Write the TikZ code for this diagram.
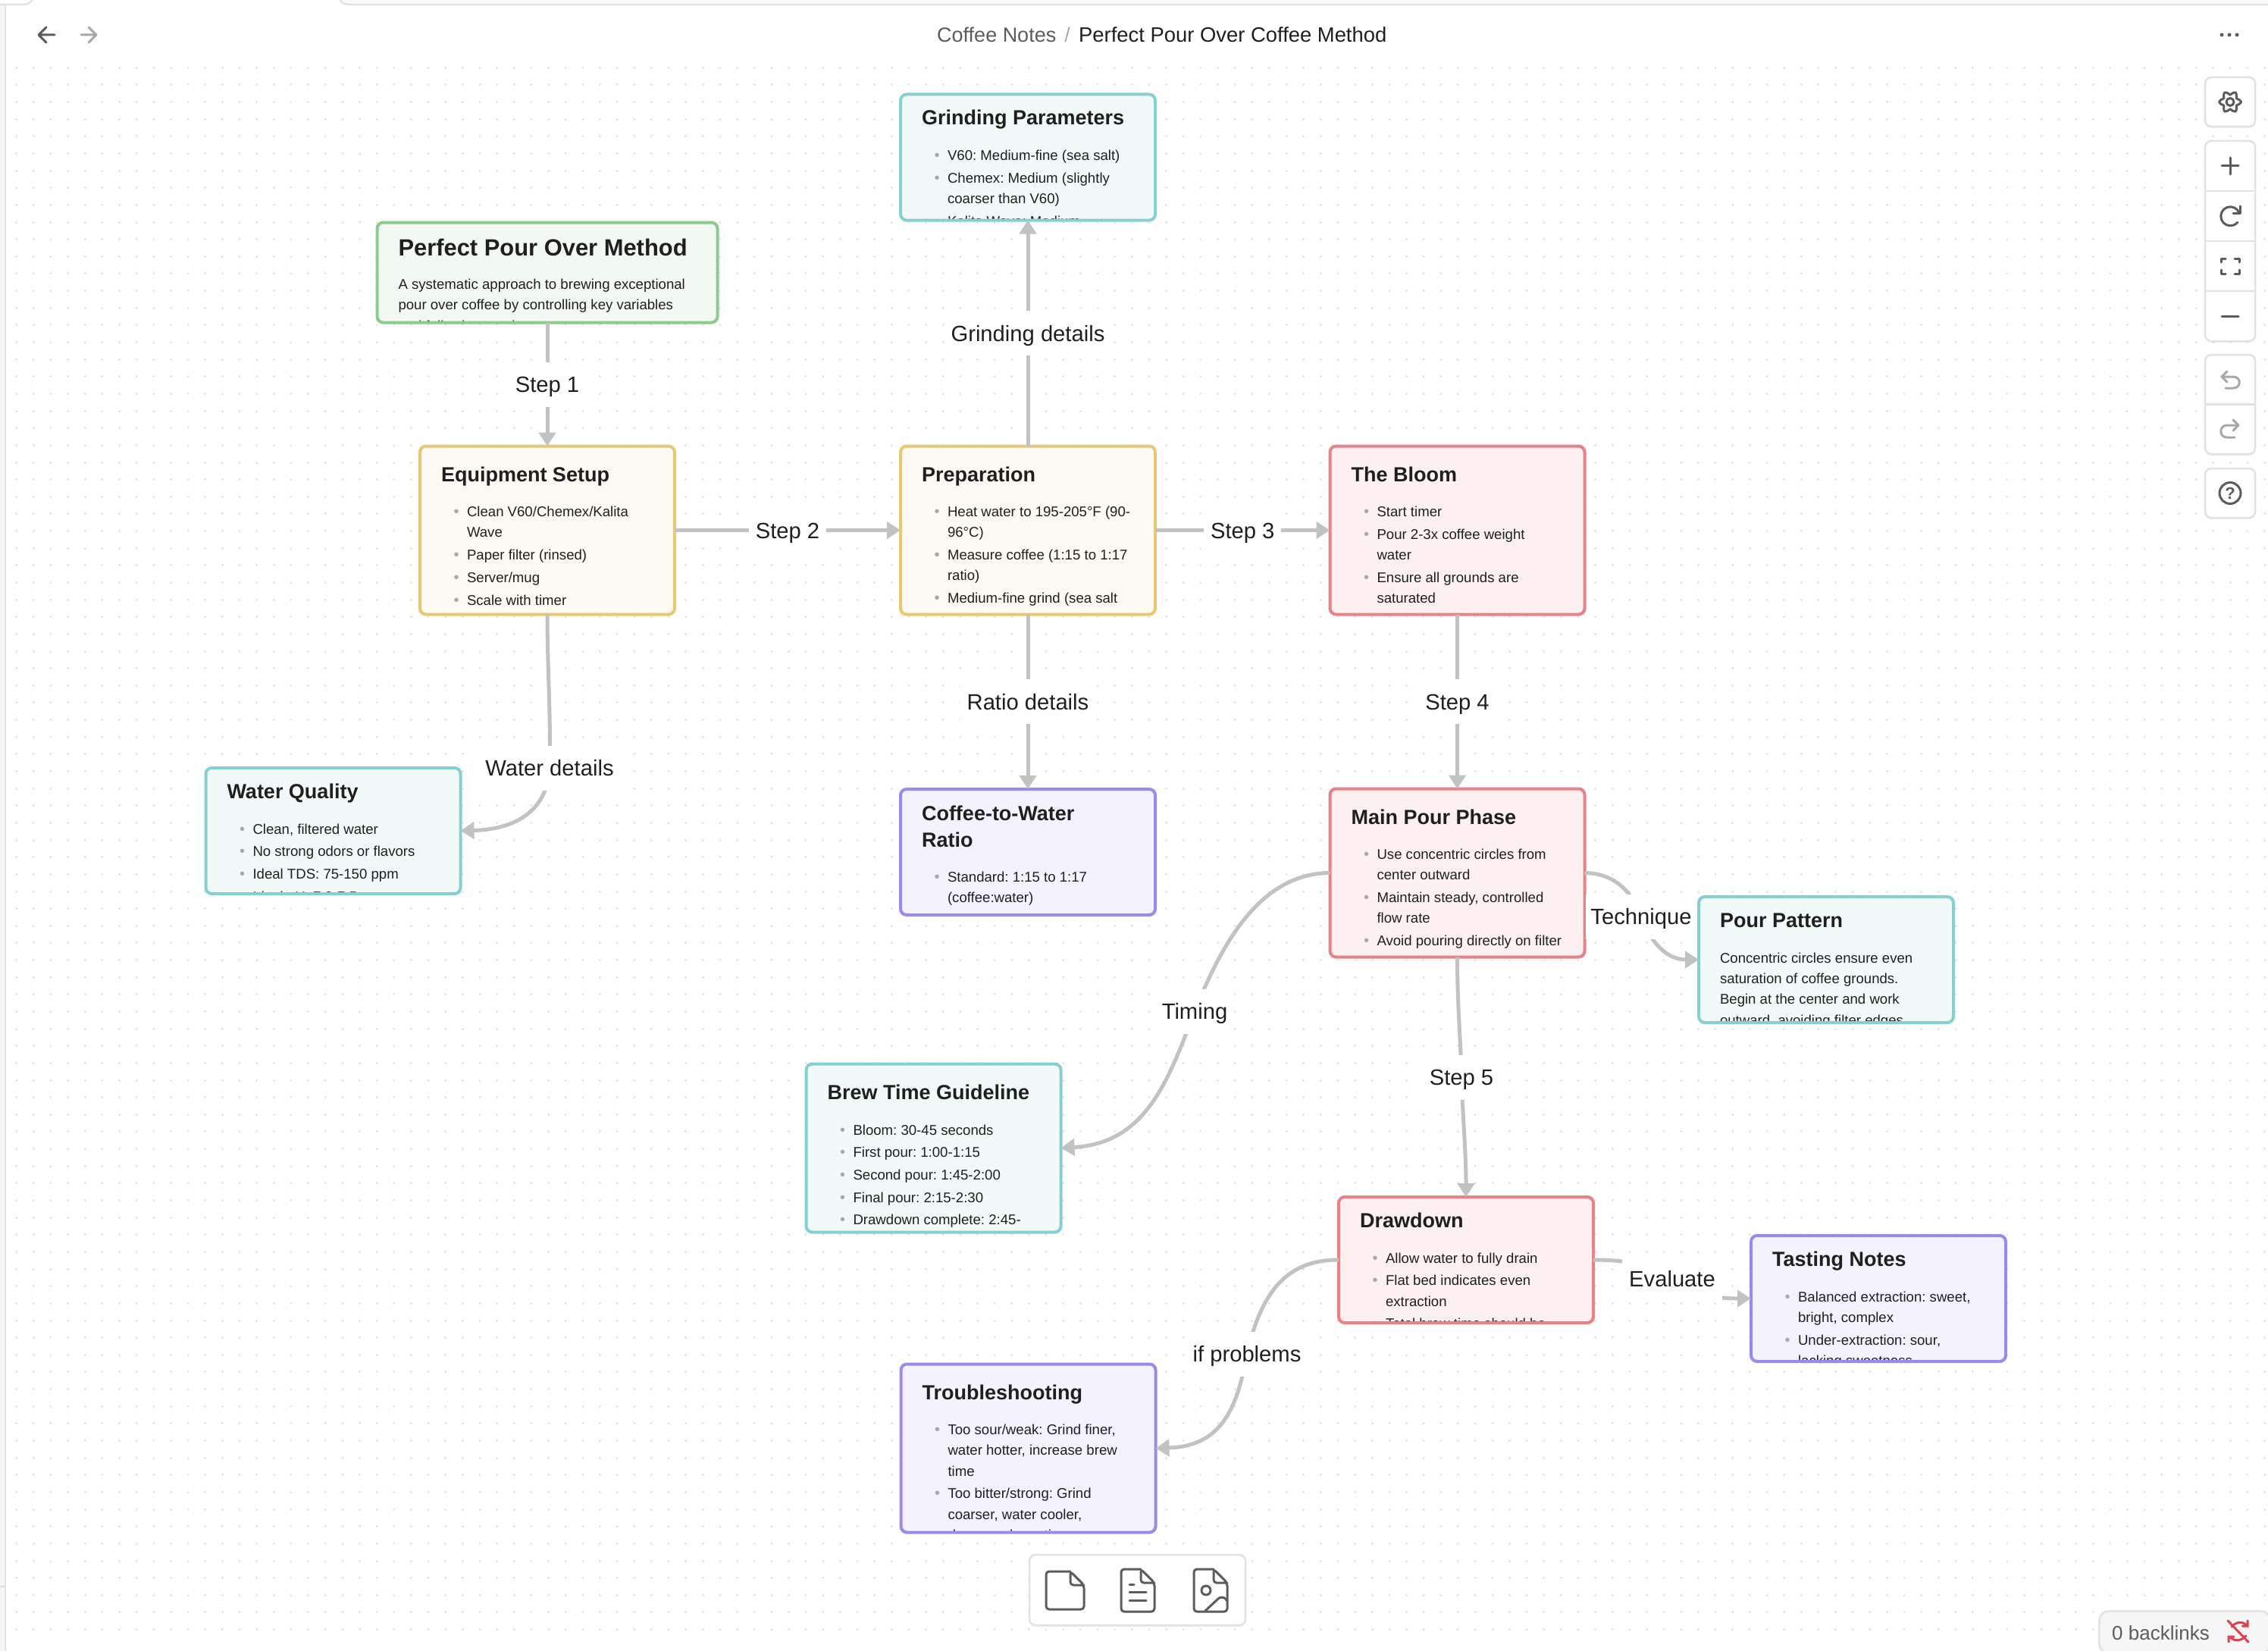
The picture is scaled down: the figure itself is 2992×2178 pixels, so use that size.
\documentclass[tikz,border=0pt]{standalone}
\usepackage{fontspec}
\setmainfont{Liberation Sans}
\usetikzlibrary{arrows.meta, shapes, shadows}
\frenchspacing

\definecolor{inkdark}{HTML}{1F1F1F}
\definecolor{inkgray}{HTML}{5C5C5C}
\definecolor{edgegray}{HTML}{C2C2C2}
\definecolor{dotgray}{HTML}{E0E0E0}
\definecolor{panelline}{HTML}{E2E2E2}
\definecolor{panelfill}{HTML}{F6F6F6}
\definecolor{bulletgray}{HTML}{A8A8A8}
\definecolor{greenline}{HTML}{8ACB8F}
\definecolor{greenfill}{HTML}{F2F8F2}
\definecolor{yellowline}{HTML}{E6C875}
\definecolor{yellowfill}{HTML}{FCF9F2}
\definecolor{tealline}{HTML}{86D0D0}
\definecolor{tealfill}{HTML}{F2FAF9}
\definecolor{redline}{HTML}{E98288}
\definecolor{redfill}{HTML}{FCF1F0}
\definecolor{purpleline}{HTML}{9C8AEA}
\definecolor{purplefill}{HTML}{F4F2FD}
\definecolor{alertred}{HTML}{DC4352}

\newcommand{\li}{\strut\llap{\raisebox{0pt}{\textcolor{bulletgray}{\fontsize{20}{20}\selectfont•}}\hspace{10.5pt}}}
\newcommand{\cardtext}[5][cardtitle]{%
  \node[#1] at ([shift={(28,#2-15.5)}]path picture bounding box.north west) {\strut #4};
  \node[cardbody] at ([shift={(62,#3-13)}]path picture bounding box.north west) {#5};}
\newcommand{\cardprose}[5][cardtitle]{%
  \node[#1] at ([shift={(28,#2-15.5)}]path picture bounding box.north west) {\strut #4};
  \node[cardbody] at ([shift={(28,#3-13)}]path picture bounding box.north west) {\strut #5};}

\tikzset{
  card/.style={draw, rounded corners=8pt, line width=4pt, minimum width=336pt, inner sep=0pt, outer sep=0pt},
  tall/.style={minimum height=222pt},
  short/.style={minimum height=166pt},
  greencard/.style={card, draw=greenline, fill=greenfill},
  yellowcard/.style={card, tall, draw=yellowline, fill=yellowfill},
  tealcard/.style={card, draw=tealline, fill=tealfill},
  redcard/.style={card, draw=redline, fill=redfill},
  purplecard/.style={card, draw=purpleline, fill=purplefill},
  cardtitle/.style={anchor=north west, minimum width=0pt, minimum height=0pt, inner sep=0pt, align=left, text=inkdark, font=\fontsize{27}{35}\bfseries\selectfont},
  cardhead/.style={cardtitle, font=\fontsize{30.9}{42}\bfseries\selectfont},
  cardbody/.style={anchor=north west, minimum width=0pt, minimum height=0pt, inner sep=0pt, align=left, text=inkdark, font=\fontsize{18.6}{27.3}\selectfont},
  edgelabel/.style={fill=white, inner xsep=9pt, inner ysep=0pt, minimum height=59pt, text height=22pt, text depth=0.5pt, text=inkdark, font=\fontsize{29.2}{36}\selectfont},
  edge/.style={draw=edgegray, line width=5pt, -{Triangle[length=18pt,width=22pt]}},
  toolpanel/.style={draw=panelline, fill=white, line width=2.5pt, rounded corners=8pt, minimum width=66pt, inner sep=0pt, outer sep=0pt,
    drop shadow={opacity=.12, shadow xshift=0pt, shadow yshift=-2pt}},
  iconline/.style={draw=inkgray, line width=3pt, line cap=round, line join=round},
  icondim/.style={draw=bulletgray, line width=3pt, line cap=round, line join=round}
}

\begin{document}
\begin{tikzpicture}[x=1pt, y=-1pt]
  \useasboundingbox (0,0) rectangle (2992,2178);
  \fill[white] (0,0) rectangle (2992,2178);
  \foreach \row in {0,...,91}
    \draw[dotgray, line width=3pt, line cap=round, dash pattern=on 0.01pt off 22.63pt] (21.7,89.3+\row*22.64) -- (3000,89.3+\row*22.64);

  \fill[panelfill] (0,0) rectangle (7,2178);
  \draw[panelline, line width=2.5pt] (7,0) -- (7,2178) (0,2093) -- (7,2093);
  \draw[panelline, fill=white, line width=2.5pt, rounded corners=12pt] (-20,-20) rectangle (44,6);
  \draw[panelline, fill=panelfill!50!white, line width=2.5pt, rounded corners=12pt] (447,-20) rectangle (3100,6);

  \node[greencard, minimum width=449pt, minimum height=132pt, path picture={\cardprose[cardhead]{30}{82}{Perfect Pour Over Method}{A systematic approach to brewing exceptional\\pour over coffee by controlling key variables\\and following precise steps}}] (method) at (722,359.5) {};
  \node[yellowcard, path picture={\cardtext{37.5}{87}{Equipment Setup}{\li Clean V60/Chemex/Kalita\\Wave\\[2.4pt]\li Paper filter (rinsed)\\[2.4pt]\li Server/mug\\[2.4pt]\li Scale with timer}}] (equipment) at (722,699.5) {};
  \node[yellowcard, path picture={\cardtext{37.5}{87}{Preparation}{\li Heat water to 195-205°F (90-\\96°C)\\[2.4pt]\li Measure coffee (1:15 to 1:17\\ratio)\\[2.4pt]\li Medium-fine grind (sea salt}}] (prep) at (1356,699.5) {};
  \node[redcard, tall, path picture={\cardtext{37.5}{87}{The Bloom}{\li Start timer\\[2.4pt]\li Pour 2-3x coffee weight\\water\\[2.4pt]\li Ensure all grounds are\\saturated}}] (bloom) at (1922.5,699.5) {};
  \node[tealcard, short, path picture={\cardtext{31.5}{81}{Grinding Parameters}{\li V60: Medium-fine (sea salt)\\[2.4pt]\li Chemex: Medium (slightly\\coarser than V60)\\[2.4pt]\li Kalita Wave: Medium}}] (grinding) at (1356,207.5) {};
  \node[tealcard, short, path picture={\cardtext{31.5}{81}{Water Quality}{\li Clean, filtered water\\[2.4pt]\li No strong odors or flavors\\[2.4pt]\li Ideal TDS: 75-150 ppm\\[2.4pt]\li Ideal pH: 7.0-7.5}}] (water) at (439.5,1096) {};
  \node[purplecard, short, path picture={\cardtext{32}{116}{Coffee-to-Water\\Ratio}{\li Standard: 1:15 to 1:17\\(coffee:water)}}] (ratio) at (1356,1124) {};
  \node[redcard, tall, path picture={\cardtext{38}{87}{Main Pour Phase}{\li Use concentric circles from\\center outward\\[2.4pt]\li Maintain steady, controlled\\flow rate\\[2.4pt]\li Avoid pouring directly on filter}}] (mainpour) at (1922.5,1151.5) {};
  \node[tealcard, short, path picture={\cardprose{31.5}{81}{Pour Pattern}{Concentric circles ensure even\\saturation of coffee grounds.\\Begin at the center and work\\outward, avoiding filter edges.}}] (pattern) at (2409,1266) {};
  \node[tealcard, tall, path picture={\cardtext{38}{87.5}{Brew Time Guideline}{\li Bloom: 30-45 seconds\\[2.4pt]\li First pour: 1:00-1:15\\[2.4pt]\li Second pour: 1:45-2:00\\[2.4pt]\li Final pour: 2:15-2:30\\[2.4pt]\li Drawdown complete: 2:45-}}] (brew) at (1231.5,1514.5) {};
  \node[redcard, short, path picture={\cardtext{31.5}{81}{Drawdown}{\li Allow water to fully drain\\[2.4pt]\li Flat bed indicates even\\extraction\\[2.4pt]\li Total brew time should be}}] (drawdown) at (1934,1662) {};
  \node[purplecard, short, path picture={\cardtext{31.5}{81}{Tasting Notes}{\li Balanced extraction: sweet,\\bright, complex\\[2.4pt]\li Under-extraction: sour,\\lacking sweetness}}] (tasting) at (2478,1713) {};
  \node[purplecard, tall, path picture={\cardtext{38}{87}{Troubleshooting}{\li Too sour/weak: Grind finer,\\water hotter, increase brew\\time\\[2.4pt]\li Too bitter/strong: Grind\\coarser, water cooler,\\decrease brew time}}] (trouble) at (1356.5,1910.5) {};

  \draw[edge] (method.south) -- node[edgelabel, midway] (step1) {Step 1} (equipment.north);
  \draw[edge] (equipment.east) -- node[edgelabel, midway] (step2) {Step 2} (prep.west);
  \draw[edge] (prep.east) -- node[edgelabel, midway] (step3) {Step 3} (bloom.west);
  \draw[edge] (bloom.south) -- node[edgelabel, midway] (step4) {Step 4} (mainpour.north);
  \draw[edge] (prep.north) -- node[edgelabel, midway] (grindlabel) {Grinding details} (grinding.south);
  \draw[edge] (prep.south) -- node[edgelabel, midway] (ratiolabel) {Ratio details} (ratio.north);
  \draw[edge] (equipment.south) .. controls (722,880) and (727,950) .. (725,1013) node[edgelabel, pos=1] (waterlabel) {Water details} .. controls (722,1070) and (680,1094) .. (water.east);
  \draw[edge] (mainpour.south) .. controls (1922.5,1330) and (1927,1370) .. (1928,1421) node[edgelabel, pos=1] (step5) {Step 5} .. controls (1930,1480) and (1934,1520) .. (drawdown.north);
  \draw[edge] (mainpour.west) .. controls (1660,1152) and (1610,1250) .. (1576,1334) node[edgelabel, pos=1] (timing) {Timing} .. controls (1540,1430) and (1510,1508) .. (brew.east);
  \draw[edge] (mainpour.east) .. controls (2125,1152) and (2150,1170) .. (2165,1209) node[edgelabel, pos=1, inner xsep=6pt] (technique) {Technique} .. controls (2178,1245) and (2200,1266) .. (pattern.west);
  \draw[edge] (drawdown.west) .. controls (1700,1662) and (1665,1700) .. (1645,1786) node[edgelabel, pos=1] (problems) {if problems} .. controls (1632,1860) and (1610,1908) .. (trouble.east);
  \draw[edge] (drawdown.east) .. controls (2150,1662) and (2185,1670) .. (2206,1687) node[edgelabel, pos=1] (evaluate) {Evaluate} .. controls (2225,1705) and (2260,1713) .. (tasting.west);

  \node[anchor=base west, inner sep=0pt, text=inkgray, font=\fontsize{27}{32}\selectfont] (crumbnotes) at (1236,56) {Coffee Notes};
  \node[anchor=base, inner sep=0pt, text=bulletgray, font=\fontsize{27}{32}\selectfont] (crumbslash) at (1408,56) {/};
  \node[anchor=base west, inner sep=0pt, text=inkdark, font=\fontsize{27.4}{32}\selectfont] (crumbtitle) at (1423,56) {Perfect Pour Over Coffee Method};

  \draw[iconline] (72,46) -- (51,46) (61,36) -- (51,46) -- (61,56);
  \draw[icondim] (107,46) -- (127,46) (117,36) -- (127,46) -- (117,56);
  \fill[inkgray] (2931,46) circle[radius=2.5] (2941,46) circle[radius=2.5] (2951,46) circle[radius=2.5];

  \node[toolpanel, minimum height=65pt] (settingspanel) at (2942,134.5) {};
  \node[toolpanel, minimum height=264pt] (zoompanel) at (2942,318) {};
  \node[toolpanel, minimum height=131pt] (historypanel) at (2942,533.5) {};
  \node[toolpanel, minimum height=65pt] (helppanel) at (2942,650.5) {};
  \draw[panelline, line width=2.5pt] (zoompanel.west |- 0,252) -- (zoompanel.east |- 0,252) (zoompanel.west |- 0,318) -- (zoompanel.east |- 0,318) (zoompanel.west |- 0,384) -- (zoompanel.east |- 0,384) (historypanel.west) -- (historypanel.east);

  \draw[iconline, shift={(2942,134.5)}] plot[smooth cycle, domain=0:345, samples=24] (\x:{12+2.5*cos(6*\x)});
  \draw[iconline] (2942,134.5) circle[radius=5];
  \draw[iconline] (2931,219) -- (2953,219) (2942,208) -- (2942,230);
  \draw[iconline] (2954,281) arc[start angle=-20, end angle=-320, radius=12.5];
  \draw[iconline] (2955,272) -- (2955,281) -- (2946,281);
  \draw[iconline] (2930,346) -- (2930,341) -- (2936,341) (2948,341) -- (2954,341) -- (2954,346) (2954,356) -- (2954,361) -- (2948,361) (2936,361) -- (2930,361) -- (2930,356);
  \draw[iconline] (2931,417) -- (2953,417);
  \draw[icondim] (2938,490) -- (2931,497) -- (2938,504) (2931,497) -- (2946,497) .. controls (2957,497) and (2957,512) .. (2946,512) -- (2936,512);
  \draw[icondim] (2946,554) -- (2953,561) -- (2946,568) (2953,561) -- (2938,561) .. controls (2927,561) and (2927,577) .. (2938,577) -- (2948,577);
  \draw[iconline] (2942,650.5) circle[radius=14];
  \node[inner sep=0pt, text=inkgray, font=\fontsize{22}{24}\bfseries\selectfont] (helpmark) at (2942,650.5) {?};

  \node[toolpanel, minimum width=285pt, minimum height=93pt] (sheetpanel) at (1500.5,2097.5) {};
  \draw[iconline, rounded corners=4pt] (1412,2073) -- (1380,2073) -- (1380,2123) -- (1430,2123) -- (1430,2091) -- (1412,2073) -- (1412,2091) -- (1430,2091);
  \draw[iconline, rounded corners=4pt] (1505,2070) -- (1479,2070) -- (1479,2126) -- (1523,2126) -- (1523,2088) -- (1505,2070) -- (1505,2088) -- (1523,2088);
  \draw[iconline] (1490,2090) -- (1496,2090) (1490,2100) -- (1512,2100) (1490,2111) -- (1512,2111);
  \draw[iconline, rounded corners=4pt] (1601,2070) -- (1575,2070) -- (1575,2126) -- (1619,2126) -- (1619,2088) -- (1601,2070) -- (1601,2088) -- (1619,2088);
  \draw[iconline] (1591,2098) circle[radius=6];
  \draw[iconline] (1590,2125) -- (1606,2110) .. controls (1611,2105) and (1616,2107) .. (1619,2112);

  \fill[black!85] (2975,2160) rectangle (2992,2178);
  \node[anchor=north west, draw=panelline, fill=panelfill, line width=2.5pt, rounded corners=13pt, minimum width=226pt, minimum height=56pt, inner sep=0pt] (backlinkbox) at (2768,2124) {};
  \node[anchor=base west, inner sep=0pt, text=inkgray, font=\fontsize{26}{32}\selectfont] (backlinks) at (2786,2163) {0 backlinks};
  \draw[alertred, line width=3pt, line cap=round] (2939,2138) -- (2966,2166);
  \draw[alertred, line width=3pt, line cap=round] (2944,2146) .. controls (2950,2139) and (2958,2139) .. (2963,2143) (2965,2138) -- (2965,2145) -- (2958,2145);
  \draw[alertred, line width=3pt, line cap=round] (2963,2158) .. controls (2957,2165) and (2948,2165) .. (2943,2161) (2940,2166) -- (2940,2159) -- (2947,2159);
\end{tikzpicture}
\end{document}
